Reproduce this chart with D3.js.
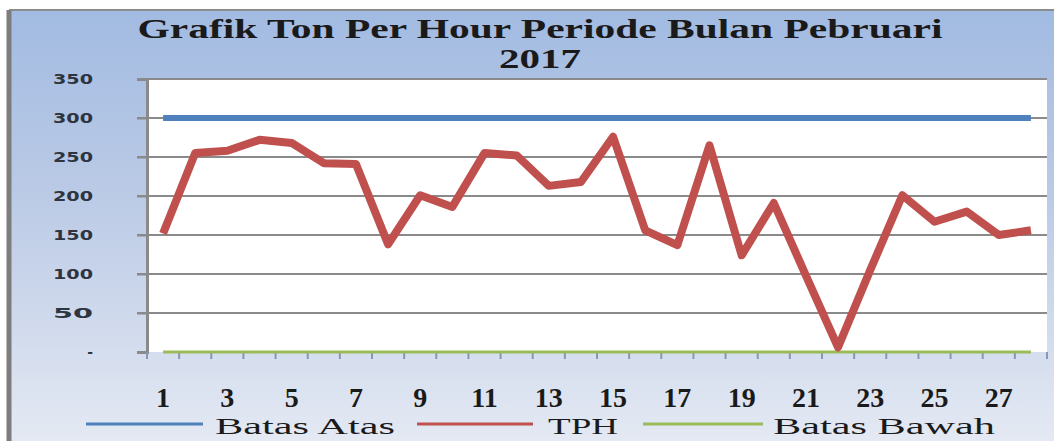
<!DOCTYPE html>
<html>
<head>
<meta charset="utf-8">
<script src="https://cdn.jsdelivr.net/npm/d3@7"></script>
<style>
  body { margin: 0; background: #fff; }
  svg { display: block; }
</style>
</head>
<body>
<script>
// Data
const days = d3.range(1, 29);
const tph = [152, 255, 258, 272, 268, 242, 241, 138, 201, 186, 255, 252, 213, 218,
             276, 156, 137, 265, 124, 191, 98, 6, 105, 201, 167, 180, 150, 156];
const batasAtas = days.map(() => 300);
const batasBawah = days.map(() => 0);
const yTicks = [0, 50, 100, 150, 200, 250, 300, 350];

const width = 1054;
const height = 441;
const margin = { top: 79, right: 7, bottom: 89, left: 147 };

const svg = d3.select("body")
  .append("svg")
  .attr("width", width)
  .attr("height", height);

// Background gradient of the chart area
const defs = svg.append("defs");
const grad = defs.append("linearGradient")
  .attr("id", "bg")
  .attr("x1", 0).attr("y1", 0).attr("x2", 0).attr("y2", 1);
grad.append("stop").attr("offset", "0%").attr("stop-color", "#a2bbe2");
grad.append("stop").attr("offset", "45%").attr("stop-color", "#bccbe6");
grad.append("stop").attr("offset", "100%").attr("stop-color", "#e4e9f3");

svg.append("rect")
  .attr("x", 10).attr("y", 10)
  .attr("width", width - 10).attr("height", height - 10)
  .attr("fill", "url(#bg)");

// frame
svg.append("line")
  .attr("x1", 9).attr("x2", width).attr("y1", 10).attr("y2", 10)
  .attr("stroke", "#8c8c8c").attr("stroke-width", 2);
svg.append("line")
  .attr("x1", 9).attr("x2", 9).attr("y1", 10).attr("y2", height)
  .attr("stroke", "#7d7d7d").attr("stroke-width", 5);

// Title
const titleFont = "'Liberation Serif', 'Times New Roman', serif";
svg.append("text")
  .attr("x", 540).attr("y", 38)
  .attr("text-anchor", "middle")
  .attr("textLength", 805)
  .attr("lengthAdjust", "spacingAndGlyphs")
  .style("font-family", titleFont)
  .style("font-weight", "bold")
  .style("font-size", "28px")
  .attr("fill", "#1a1a1a")
  .text("Grafik Ton Per Hour Periode Bulan Pebruari");

svg.append("text")
  .attr("x", 540).attr("y", 68)
  .attr("text-anchor", "middle")
  .attr("textLength", 82)
  .attr("lengthAdjust", "spacingAndGlyphs")
  .style("font-family", titleFont)
  .style("font-weight", "bold")
  .style("font-size", "28px")
  .attr("fill", "#1a1a1a")
  .text("2017");

// Scales
const xScale = d3.scaleBand()
  .domain(days)
  .range([margin.left, width - margin.right])
  .padding(0);

const yScale = d3.scaleLinear()
  .domain([0, 350])
  .range([height - margin.bottom, margin.top]);

const cx = d => xScale(d) + xScale.bandwidth() / 2;

// Plot area
svg.append("rect")
  .attr("x", margin.left).attr("y", margin.top)
  .attr("width", width - margin.right - margin.left)
  .attr("height", height - margin.bottom - margin.top)
  .attr("fill", "#ffffff");

// Gridlines
svg.append("g")
  .selectAll("line")
  .data(yTicks.filter(d => d > 0))
  .join("line")
  .attr("x1", margin.left - 10)
  .attr("x2", width - margin.right)
  .attr("y1", d => yScale(d))
  .attr("y2", d => yScale(d))
  .attr("stroke", "#8a8a8a")
  .attr("stroke-width", 2);

// Y axis
const yAxis = d3.axisLeft(yScale)
  .tickValues(yTicks)
  .tickSize(10)
  .tickPadding(0)
  .tickFormat(d => d === 0 ? "-" : d);

const yG = svg.append("g")
  .attr("transform", `translate(${margin.left}, 0)`)
  .call(yAxis);
yG.select(".domain").attr("stroke", "#8a8a8a").attr("stroke-width", 3);
yG.selectAll(".tick line").attr("stroke", "#8a8a8a").attr("stroke-width", 2);
yG.selectAll(".tick text")
  .attr("x", -54)
  .attr("dy", "0.35em")
  .attr("textLength", 40)
  .attr("lengthAdjust", "spacingAndGlyphs")
  .style("font-family", "'DejaVu Sans', Verdana, sans-serif")
  .style("font-weight", "bold")
  .style("font-size", "14px")
  .attr("fill", "#2e3440");
yG.selectAll(".tick text").filter(d => d === 0).attr("textLength", null);

// X axis (minor ticks at band boundaries)
const xAxisG = svg.append("g")
  .attr("transform", `translate(0, ${height - margin.bottom})`);
xAxisG.selectAll("line")
  .data(days.concat([29]))
  .join("line")
  .attr("x1", d => d <= 28 ? xScale(d) : width - margin.right)
  .attr("x2", d => d <= 28 ? xScale(d) : width - margin.right)
  .attr("y1", 0).attr("y2", 7)
  .attr("stroke", "#8796b5")
  .attr("stroke-width", 2);

const xLabels = days.filter(d => d % 2 === 1);
xAxisG.selectAll("text")
  .data(xLabels)
  .join("text")
  .attr("x", d => cx(d))
  .attr("y", 55)
  .attr("text-anchor", "middle")
  .style("font-family", titleFont)
  .style("font-weight", "bold")
  .style("font-size", "28px")
  .attr("fill", "#1a1a1a")
  .text(d => d);

// Lines
const line = d3.line()
  .x((d, i) => cx(days[i]))
  .y(d => yScale(d));

svg.append("path")
  .datum(batasBawah)
  .attr("d", line)
  .attr("fill", "none")
  .attr("stroke", "#9bbb59")
  .attr("stroke-width", 3);

svg.append("path")
  .datum(batasAtas)
  .attr("d", line)
  .attr("fill", "none")
  .attr("stroke", "#4f81bd")
  .attr("stroke-width", 6);

svg.append("path")
  .datum(tph)
  .attr("d", line)
  .attr("fill", "none")
  .attr("stroke", "#c0504d")
  .attr("stroke-width", 8)
  .attr("stroke-linejoin", "round");

// Legend
const legend = [
  { name: "Batas Atas", color: "#4f81bd", x1: 86, x2: 203, tx: 215, tw: 180 },
  { name: "TPH", color: "#c0504d", x1: 417, x2: 533, tx: 548, tw: 70 },
  { name: "Batas Bawah", color: "#9bbb59", x1: 643, x2: 763, tx: 773, tw: 222 }
];

const lg = svg.append("g");
lg.selectAll("line")
  .data(legend)
  .join("line")
  .attr("x1", d => d.x1).attr("x2", d => d.x2)
  .attr("y1", 424).attr("y2", 424)
  .attr("stroke", d => d.color)
  .attr("stroke-width", 3);

lg.selectAll("text")
  .data(legend)
  .join("text")
  .attr("x", d => d.tx)
  .attr("y", 434)
  .attr("textLength", d => d.tw)
  .attr("lengthAdjust", "spacingAndGlyphs")
  .style("font-family", titleFont)
  .style("font-size", "24px")
  .attr("fill", "#1a1a1a")
  .text(d => d.name);
</script>
</body>
</html>
